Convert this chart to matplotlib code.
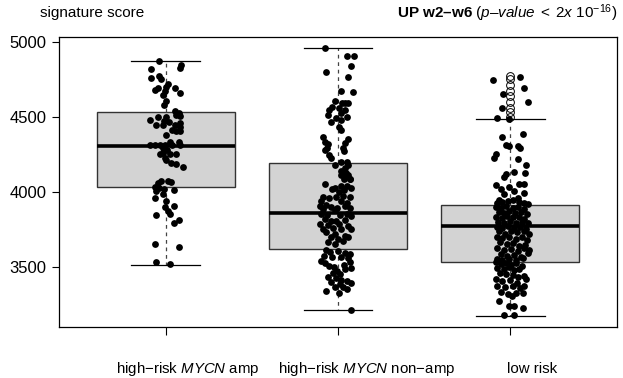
import numpy as np
import matplotlib
matplotlib.use("Agg")
import matplotlib.pyplot as plt

plt.rcParams['font.family'] = ['Liberation Sans', 'DejaVu Sans']
plt.rcParams['mathtext.fontset'] = 'custom'
plt.rcParams['mathtext.rm'] = 'Liberation Sans'
plt.rcParams['mathtext.it'] = 'Liberation Sans:italic'
plt.rcParams['mathtext.bf'] = 'Liberation Sans:bold'

groups = ["high\u2212risk $\\mathit{MYCN}$ amp",
          "high\u2212risk $\\mathit{MYCN}$ non\u2212amp",
          "low risk"]

# box statistics
medians = [4305, 3860, 3770]
q1s = [4030, 3622, 3535]
q3s = [4530, 4192, 3912]
whis_lo = [3515, 3212, 3172]
whis_hi = [4873, 4958, 4488]
outliers_low_risk = [4772, 4752, 4715, 4676, 4637, 4600, 4563, 4530, 4500]

# points: score values and horizontal jitter (group units)
amp_y = [4874, 4847, 4829, 4821, 4776, 4754, 4763, 4719, 4699, 4692,
         4692, 4681, 4659, 4675, 4644, 4604, 4577, 4542, 4526, 4504,
         4515, 4482, 4498, 4498, 4471, 4449, 4444, 4467, 4449, 4460,
         4431, 4405, 4409, 4416, 4383, 4334, 4334, 4316, 4316, 4312,
         4316, 4312, 4316, 4290, 4283, 4261, 4254, 4250, 4228, 4250,
         4210, 4195, 4184, 4166, 4073, 4073, 4062, 4068, 4033, 4024,
         4007, 4018, 3984, 4011, 3962, 3940, 3907, 3900, 3874, 3856,
         3847, 3812, 3796, 3653, 3635, 3531, 3520]
amp_jit = [-0.041, 0.091, 0.085, -0.083, -0.039, -0.025, -0.083, 0.014, 0.0, 0.052,
           -0.045, -0.064, 0.081, -0.006, -0.019, 0.004, -0.012, 0.052, 0.078, 0.085,
           0.062, -0.089, -0.045, 0.0, -0.012, -0.016, -0.054, 0.019, 0.052, 0.085,
           0.081, 0.081, 0.058, 0.039, 0.004, 0.023, 0.078, -0.093, -0.064, -0.035,
           -0.006, 0.039, 0.085, -0.019, 0.008, -0.016, -0.035, 0.023, -0.006, 0.062,
           0.004, 0.033, 0.058, 0.101, -0.025, 0.014, -0.045, 0.033, -0.064, -0.039,
           -0.054, -0.012, -0.019, 0.047, -0.064, 0.0, 0.047, -0.006, 0.014, 0.023,
           -0.058, 0.078, 0.047, -0.064, 0.078, -0.054, 0.023]

nonamp_y = [4960, 4907, 4907, 4840, 4801, 4767, 4672, 4668, 4606, 4590,
            4590, 4590, 4568, 4546, 4557, 4546, 4524, 4513, 4491, 4480,
            4502, 4464, 4436, 4414, 4369, 4336, 4318, 4296, 4281, 4354,
            4325, 4292, 4270, 4248, 4225, 4177, 4203, 4203, 4177, 4159,
            4137, 4126, 4104, 4088,
            4113, 4113, 4084, 4084,
            4051, 4029, 4040, 4040, 4029, 4011, 4017, 4002,
            3967, 3958, 3940, 3967, 3973, 3967, 3940, 3929,
            3907, 3913, 3900, 3896, 3907, 3896, 3885, 3878,
            3852, 3847, 3847, 3856, 3840,
            3818, 3807, 3807, 3812, 3785, 3781, 3785, 3774, 3763, 3752, 3752, 3752,
            3730, 3723, 3697, 3708, 3686, 3664, 3652, 3675, 3697,
            3613, 3597, 3604, 3591, 3586, 3575, 3568, 3564, 3560,
            3537, 3524, 3509, 3498, 3515, 3531, 3476, 3487, 3493,
            3458, 3453, 3431, 3427, 3414, 3405, 3398, 3387, 3391, 3365, 3365, 3343, 3354, 3325,
            3214]
nonamp_jit = [-0.078, 0.054, 0.093, 0.074, -0.068, 0.058, 0.019, 0.087, -0.016, 0.023,
              0.043, 0.058, -0.035, -0.054, 0.004, 0.043, 0.019, -0.058, -0.010, 0.016,
              0.054, -0.043, 0.004, 0.016, -0.087, -0.074, -0.058, -0.062, -0.074, 0.058,
              0.043, 0.029, 0.035, -0.054, -0.039, -0.019, 0.016, 0.054, 0.058, 0.039,
              0.019, 0.048, 0.048, 0.068,
              0.019, 0.058, 0.035, 0.068,
              -0.078, -0.019, 0.016, 0.054, 0.078, 0.035, -0.035, 0.004,
              -0.087, -0.054, -0.097, -0.010, 0.029, 0.068, 0.019, 0.054,
              -0.107, -0.068, -0.039, -0.004, 0.039, 0.068, -0.087, -0.019,
              -0.101, -0.062, 0.010, 0.054, 0.078,
              -0.078, -0.039, -0.010, 0.039, -0.107, -0.058, 0.004, 0.058, -0.029, -0.087, 0.019, 0.078,
              -0.068, -0.019, -0.043, 0.039, 0.0, -0.058, -0.019, 0.029, 0.058,
              -0.068, -0.048, 0.0, 0.043, 0.068, -0.081, -0.035, 0.019, 0.058,
              -0.101, -0.078, -0.054, -0.023, 0.035, 0.068, -0.004, 0.043, 0.078,
              -0.029, 0.010, -0.058, -0.010, 0.019, 0.054, -0.039, 0.010, 0.074, -0.016, 0.029, -0.068, 0.054, 0.004,
              0.078]

low_y = [4768, 4746, 4690, 4650, 4602, 4562, 4495, 4487,
         4365, 4387, 4312, 4305, 4305, 4290, 4250, 4228, 4223, 4179, 4128,
         4135, 4117, 4099, 4046, 4055, 4051, 4033, 4007, 4018,
         3995, 3984, 3945, 3958,
         3929, 3936, 3940, 3945, 3936, 3929, 3918,
         3900, 3896, 3907, 3892, 3900, 3885,
         3869, 3863, 3874, 3863, 3869, 3852,
         3834, 3825, 3841, 3830, 3834, 3819,
         3803, 3796, 3807, 3796, 3803, 3790,
         3768, 3763, 3774, 3759, 3768, 3752,
         3737, 3723, 3741, 3730, 3737, 3719,
         3701, 3692, 3701, 3686, 3697, 3679,
         3664, 3653, 3657, 3642, 3648,
         3626, 3613, 3619, 3608, 3626, 3613,
         3586, 3575, 3582, 3569, 3591,
         3553, 3546, 3553, 3546, 3560,
         3531, 3520, 3524, 3515, 3524, 3509,
         3493, 3487, 3498, 3480, 3487,
         3458, 3454, 3449, 3436, 3443,
         3420, 3409, 3414, 3392, 3420,
         3376, 3365, 3370, 3361, 3376,
         3332, 3321, 3325, 3325,
         3306, 3276, 3243, 3239, 3226, 3181, 3177]
low_jit = [0.056, -0.099, 0.081, -0.041, 0.101, -0.048, -0.074, -0.006,
           -0.045, 0.072, -0.025, -0.006, 0.043, 0.058, -0.083, -0.093, 0.043, 0.091, 0.085,
           0.023, -0.025, -0.039, -0.083, 0.081, 0.052, -0.006, 0.023, -0.054,
           0.078, -0.035, -0.064, 0.043,
           -0.074, -0.045, -0.012, 0.019, 0.052, 0.081, 0.101,
           -0.083, -0.054, -0.025, 0.014, 0.043, 0.078,
           -0.064, -0.035, -0.006, 0.027, 0.062, 0.097,
           -0.083, -0.050, -0.016, 0.019, 0.052, 0.081,
           -0.070, -0.039, 0.0, 0.033, 0.066, 0.101,
           -0.078, -0.045, -0.012, 0.023, 0.058, 0.091,
           -0.064, -0.031, 0.004, 0.039, 0.078, 0.110,
           -0.074, -0.045, -0.006, 0.033, 0.066, 0.097,
           -0.058, -0.019, 0.019, 0.052, 0.085,
           -0.074, -0.035, 0.004, 0.043, 0.078, 0.110,
           -0.054, -0.016, 0.023, 0.062, 0.101,
           -0.078, -0.045, -0.006, 0.033, 0.072,
           -0.083, -0.054, -0.025, 0.004, 0.033, 0.066,
           -0.074, -0.039, -0.006, 0.023, 0.052,
           -0.058, -0.025, 0.014, 0.043, 0.081,
           -0.083, -0.045, 0.0, 0.039, 0.091,
           -0.074, -0.031, 0.014, 0.058, 0.081,
           -0.054, -0.012, 0.033, 0.072,
           0.010, -0.064, -0.010, 0.023, 0.076, -0.035, 0.023]

points_y = [amp_y, nonamp_y, low_y]
points_jit = [amp_jit, nonamp_jit, low_jit]

fig = plt.figure(figsize=(6.23, 3.78), dpi=100)
ax = fig.add_axes([59 / 623, 1 - 327 / 378, 558 / 623, 290 / 378])

stats = []
for i in range(3):
    stats.append(dict(med=medians[i], q1=q1s[i], q3=q3s[i],
                      whislo=whis_lo[i], whishi=whis_hi[i],
                      fliers=outliers_low_risk if i == 2 else []))

ax.bxp(stats, positions=[1, 2, 3], widths=0.8, patch_artist=True,
       showfliers=True,
       boxprops=dict(facecolor='#d3d3d3', edgecolor='#333333', linewidth=1.0),
       medianprops=dict(color='black', linewidth=2.6, solid_capstyle='butt'),
       whiskerprops=dict(color='#444444', linewidth=0.9, linestyle=(0, (3, 3))),
       capprops=dict(color='black', linewidth=0.9),
       capwidths=0.4,
       flierprops=dict(marker='o', markerfacecolor='none', markeredgecolor='black',
                       markersize=5.6, markeredgewidth=0.7),
       zorder=1)

for i in range(3):
    xs = np.array(points_jit[i]) + i + 1
    ax.scatter(xs, points_y[i], s=24, color='black', linewidths=0, zorder=3)

ax.set_xlim(0.38, 3.62)
ax.set_ylim(3100, 5033)
ax.set_yticks([3500, 4000, 4500, 5000])
ax.set_xticks([1, 2, 3])
ax.set_xticklabels([])
ax.tick_params(axis='x', length=6, width=0.8)
ax.tick_params(axis='y', length=5, pad=4, width=0.8, labelsize=12)
for s in ax.spines.values():
    s.set_linewidth(0.9)

# group labels sit a little right of their ticks, as in the original
label_x = [188, 367, 532]
for name, lx in zip(groups, label_x):
    fig.text(lx / 623, 1 - 373 / 378, name, fontsize=10.8, ha='center', va='baseline')

fig.text(40 / 623, 1 - 13 / 378, "signature score", fontsize=11, va='center', ha='left')
fig.text(617 / 623, 1 - 13 / 378,
         "$\\mathbf{UP\\ w2\u2013w6}$ $\\mathit{(p\u2013value\\;<\\;2x\\ 10^{\u221216})}$",
         fontsize=11, va='center', ha='right')

fig.savefig("out.png", dpi=100)
